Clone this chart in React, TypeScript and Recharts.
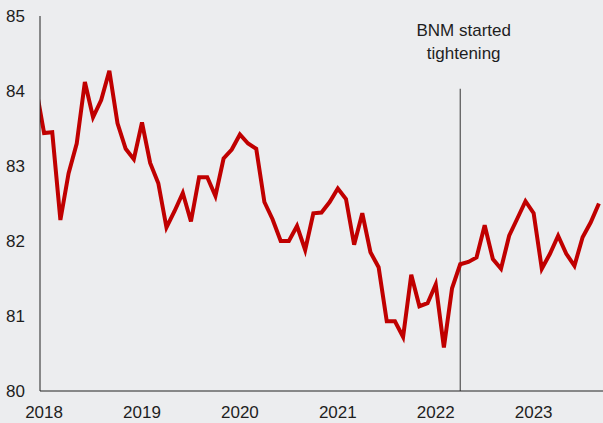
import React from 'react';
import { Line, LineChart, ReferenceLine, XAxis, YAxis } from 'recharts';

// monthly index, Dec 2017 .. Sep 2023 (first point sits just left of the axis)
const startMonth = -1;
const values = [
  84.05,
  83.44, 83.45, 82.28, 82.9, 83.3, 84.12, 83.65, 83.88, 84.27, 83.57, 83.23, 83.09,
  83.58, 83.04, 82.77, 82.18, 82.4, 82.64, 82.26, 82.85, 82.85, 82.6, 83.1, 83.22,
  83.42, 83.3, 83.23, 82.52, 82.29, 82.0, 82.0, 82.2, 81.88, 82.37, 82.38, 82.52,
  82.7, 82.56, 81.95, 82.37, 81.85, 81.65, 80.93, 80.93, 80.72, 81.55, 81.13, 81.17,
  81.42, 80.58, 81.37, 81.69, 81.72, 81.78, 82.21, 81.76, 81.63, 82.07, 82.3, 82.53,
  82.37, 81.63, 81.83, 82.07, 81.83, 81.67, 82.05, 82.25, 82.5,
];
const yearTicks = [0, 12, 24, 36, 48, 60];
const yTicks = [80, 81, 82, 83, 84, 85];
const eventMonth = 51; // Apr 2022
const eventTop = 84.03;
const eventLines = ['BNM started', 'tightening'];

const data = values.map((v, k) => ({ m: startMonth + k, value: v }));

const font = '"Liberation Sans", Arial, sans-serif';
const textColor = '#1e1e1e';

const EventLabel = (props: any) => {
  const vb = props.viewBox || {};
  const cx = (vb.x ?? 460) + 3.5;
  return (
    <g>
      {eventLines.map((t, k) => (
        <text
          key={t}
          x={cx}
          y={36 + k * 22.5}
          textAnchor="middle"
          fontSize={17}
          fontFamily={font}
          fill={textColor}
        >
          {t}
        </text>
      ))}
    </g>
  );
};

export default function App() {
  return (
    <div style={{ position: 'fixed', left: 0, top: 0, width: 603, height: 423, background: '#ECEDEF' }}>
      <LineChart width={603} height={423} data={data} margin={{ top: 16, right: 0, bottom: 0, left: 0 }}>
        <XAxis
          dataKey="m"
          type="number"
          domain={[-0.5, 68.5]}
          allowDataOverflow
          ticks={yearTicks}
          tickFormatter={(m: number) => String(2018 + m / 12)}
          tickLine={false}
          tickSize={0}
          tickMargin={15}
          height={32}
          axisLine={{ stroke: '#222', strokeWidth: 1 }}
          tick={{ fontSize: 17, fontFamily: font, fill: textColor }}
        />
        <YAxis
          type="number"
          domain={[80, 85]}
          ticks={yTicks}
          width={40}
          tickLine={false}
          tickSize={0}
          tickMargin={15}
          axisLine={{ stroke: '#222', strokeWidth: 1 }}
          tick={{ fontSize: 17, fontFamily: font, fill: textColor }}
        />
        <ReferenceLine
          segment={[{ x: eventMonth, y: 80 }, { x: eventMonth, y: eventTop }]}
          stroke="#333"
          strokeWidth={1}
          ifOverflow="visible"
          label={<EventLabel />}
        />
        <Line
          type="linear"
          dataKey="value"
          stroke="#C00000"
          strokeWidth={4}
          dot={false}
          isAnimationActive={false}
        />
      </LineChart>
    </div>
  );
}
